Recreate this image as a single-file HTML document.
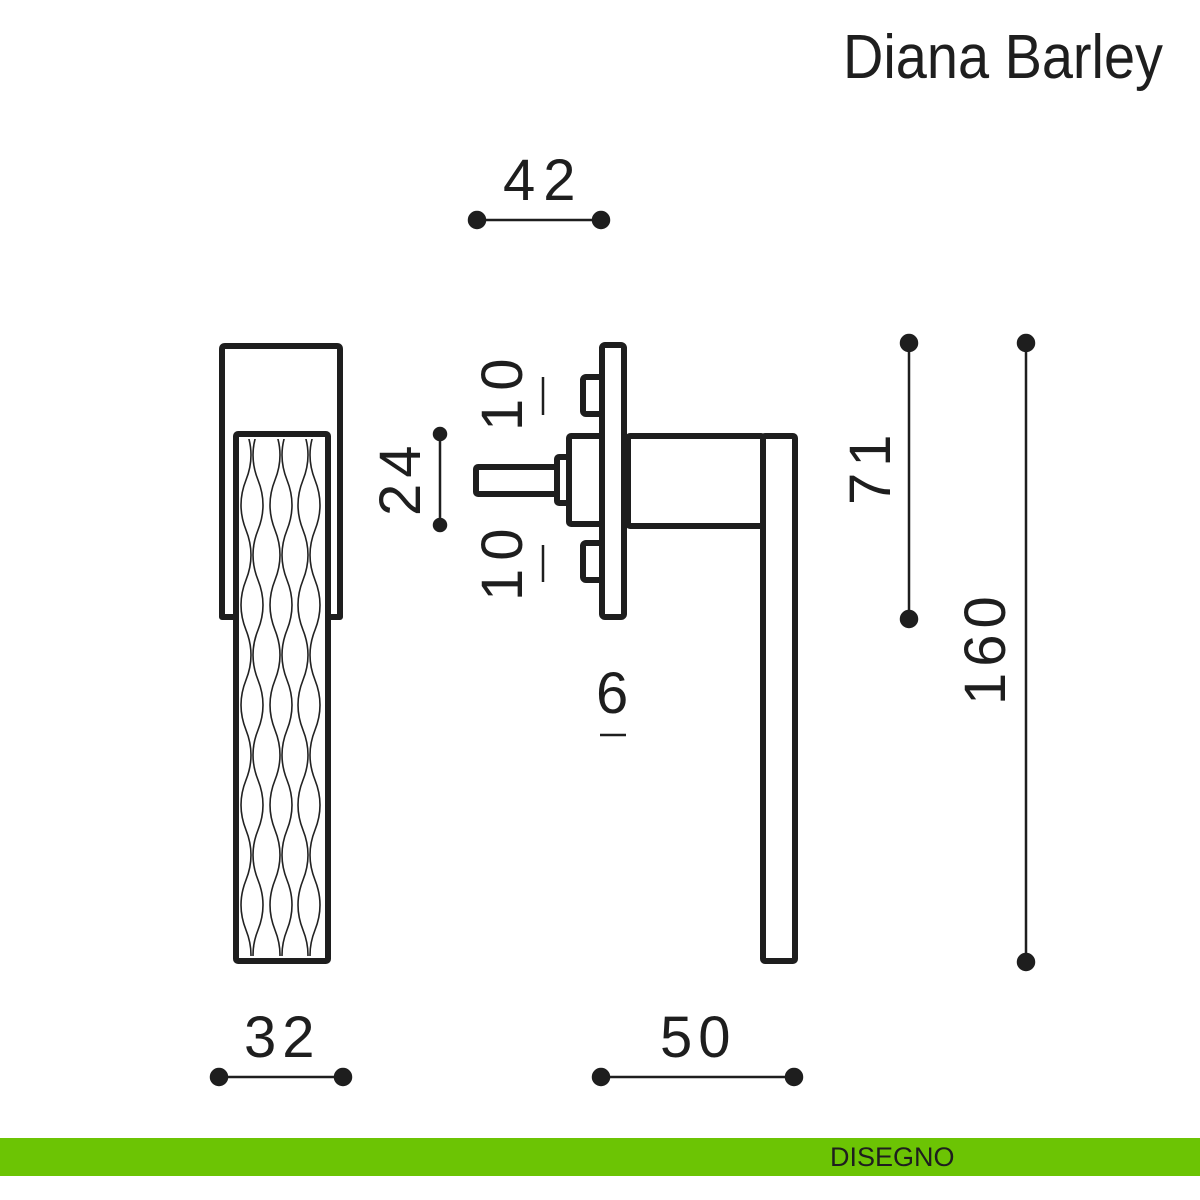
<!DOCTYPE html>
<html><head><meta charset="utf-8"><style>
html,body{margin:0;padding:0;background:#fff;}
svg{display:block;}
text{font-family:"Liberation Sans",sans-serif;fill:#1e1e1e;}
</style></head><body>
<svg width="1200" height="1200" viewBox="0 0 1200 1200" xmlns="http://www.w3.org/2000/svg">
<defs>
<path id="w" d="M0,430 Q10,455 0,480 T0,530 T0,580 T0,630 T0,680 T0,730 T0,780 T0,830 T0,880 T0,930 T0,980" fill="none" stroke="#222" stroke-width="1.6"/>
<clipPath id="c"><rect x="240" y="439" width="82" height="517"/></clipPath>
</defs>
<rect width="1200" height="1200" fill="#fff"/>
<text x="843" y="78" font-size="62" textLength="320" lengthAdjust="spacingAndGlyphs">Diana Barley</text>

<g fill="none" stroke="#1e1e1e" stroke-width="6" stroke-linejoin="round">
<path d="M233,617 H222 V349 Q222,346 225,346 H337 Q340,346 340,349 V617 H328"/>
<rect x="236" y="434" width="92" height="527" rx="2"/>
<rect x="602" y="345" width="22" height="272" rx="3"/>
<rect x="583" y="377" width="19" height="37" rx="3"/>
<rect x="583" y="543" width="19" height="37" rx="3"/>
<rect x="569" y="436" width="33" height="88" rx="2"/>
<rect x="557" y="457" width="12" height="46" rx="2"/>
<rect x="476" y="467" width="81" height="27" rx="2"/>
<rect x="628" y="436" width="135" height="90" rx="2"/>
<rect x="763" y="436" width="32" height="525" rx="2"/>
</g>
<g clip-path="url(#c)">
<use href="#w" transform="translate(246,0)"/>
<use href="#w" transform="translate(258,0) scale(-1,1)"/>
<use href="#w" transform="translate(275,0)"/>
<use href="#w" transform="translate(287,0) scale(-1,1)"/>
<use href="#w" transform="translate(303,0)"/>
<use href="#w" transform="translate(315,0) scale(-1,1)"/>
</g>

<g stroke="#1e1e1e" stroke-width="2.5" fill="#1e1e1e">
<line x1="477" y1="220" x2="601" y2="220"/><circle cx="477" cy="220" r="8"/><circle cx="601" cy="220" r="8"/>
<line x1="219" y1="1077" x2="343" y2="1077"/><circle cx="219" cy="1077" r="8"/><circle cx="343" cy="1077" r="8"/>
<line x1="601" y1="1077" x2="794" y2="1077"/><circle cx="601" cy="1077" r="8"/><circle cx="794" cy="1077" r="8"/>
<line x1="440" y1="434" x2="440" y2="525"/><circle cx="440" cy="434" r="6"/><circle cx="440" cy="525" r="6"/>
<line x1="909" y1="343" x2="909" y2="619"/><circle cx="909" cy="343" r="8"/><circle cx="909" cy="619" r="8"/>
<line x1="1026" y1="343" x2="1026" y2="962"/><circle cx="1026" cy="343" r="8"/><circle cx="1026" cy="962" r="8"/>
<line x1="543" y1="377" x2="543" y2="415"/>
<line x1="543" y1="545" x2="543" y2="582"/>
<line x1="600" y1="735" x2="626" y2="735"/>
</g>

<g font-size="58">
<text x="503" y="200" letter-spacing="8">42</text>
<text x="244" y="1057" letter-spacing="6">32</text>
<text x="660" y="1057" letter-spacing="6">50</text>
<text x="596" y="713">6</text>
<text transform="translate(522,431) rotate(-90)" letter-spacing="8">10</text>
<text transform="translate(522,601) rotate(-90)" letter-spacing="8">10</text>
<text transform="translate(420,516) rotate(-90)" letter-spacing="6">24</text>
<text transform="translate(890,505) rotate(-90)" letter-spacing="6">71</text>
<text transform="translate(1005,705) rotate(-90)" letter-spacing="6">160</text>
</g>

<rect x="0" y="1138" width="1200" height="38" fill="#6cc404"/>
<text x="830" y="1166" font-size="27" fill="#111">DISEGNO</text>
</svg>
</body></html>
